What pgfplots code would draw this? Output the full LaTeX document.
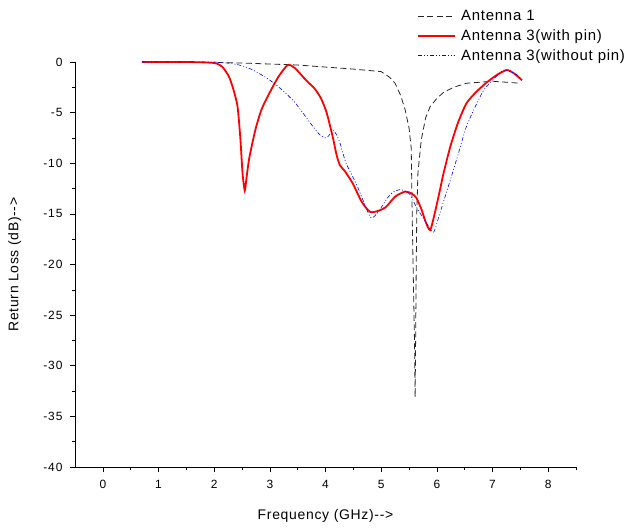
\documentclass[border=0pt]{standalone}
\usepackage{fontspec}
\setmainfont{Liberation Sans}
\newfontfamily\tickfont[LetterSpace=8]{Liberation Sans}
\newfontfamily\labfont[LetterSpace=5]{Liberation Sans}
\newfontfamily\legfont[LetterSpace=5]{Liberation Sans}
\usepackage{pgfplots}
\pgfplotsset{compat=1.18}
\begin{document}
\begin{tikzpicture}
\begin{axis}[name=ax,
  scale only axis, width=501bp, height=405bp,
  xmin=-0.5, xmax=8.5, ymin=-40, ymax=0,
  axis x line*=bottom, axis y line*=left,
  clip=false,
  xtick={0,1,...,8}, minor xtick={0.5,1.5,...,8.5},
  ytick={-40,-35,...,0}, minor ytick={-37.5,-32.5,...,-2.5},
  tick align=outside, major tick length=5bp, minor tick length=3bp,
  every tick/.style={black, line width=0.6pt},
  axis line style={line width=0.7pt},
  tick label style={font=\tickfont\fontsize{12}{14}\selectfont},
  xticklabel style={yshift=-5bp},
  yticklabel style={xshift=-4bp},
  /pgf/number format/assume math mode=true,
  label style={font=\labfont\fontsize{14}{16}\selectfont},
  xlabel={Frequency (GHz){-}{-}>},
  ylabel={Return Loss (dB){-}{-}>},
  xlabel style={at={(axis description cs:0.5,-0.121)}, anchor=center},
  ylabel style={at={(axis description cs:-0.12,0.5)}, anchor=center},
  legend style={at={(axis description cs:0.676,1.1376)}, anchor=north west, draw=none, fill=none,
    font=\legfont\fontsize{15}{17}\selectfont, row sep=3.5bp},
  legend cell align=left,
  legend image post style={xscale=2.15},
]
\addplot[color=black!85, line width=0.8pt, dash pattern=on 6pt off 3.5pt] coordinates {
(0.7,0) (2.0,-0.05) (2.5,-0.1) (3.0,-0.2) (3.5,-0.3) (4.0,-0.5) (4.5,-0.7) (5.0,-0.95)
(5.15,-1.5) (5.25,-2.1) (5.35,-3.3) (5.43,-4.7) (5.5,-6.5) (5.54,-8.5) (5.55,-12)
(5.56,-16) (5.58,-22) (5.6,-28) (5.61,-33.1) (5.62,-27) (5.63,-20) (5.64,-15) (5.66,-11)
(5.72,-7.7) (5.8,-5.5) (5.88,-4.4) (6.0,-3.6) (6.12,-3.0) (6.3,-2.5) (6.53,-2.1) (7.0,-1.9) (7.5,-2.1)
};
\addlegendentry{\hspace{4bp}Antenna 1}
\addplot[color=red, line width=1.8pt, smooth, tension=0.4] coordinates {
(0.7,0) (1.5,0) (2.0,-0.1) (2.15,-0.5) (2.27,-1.5) (2.35,-2.8) (2.42,-4.4) (2.47,-7.5)
(2.51,-11) (2.55,-12.7) (2.58,-11.5) (2.63,-9.5) (2.74,-6.7) (2.85,-4.7) (2.99,-3.1)
(3.15,-1.5) (3.32,-0.3) (3.45,-0.6) (3.65,-1.8) (3.8,-2.6) (3.92,-3.6) (4.02,-5) (4.13,-7.4)
(4.2,-9.2) (4.26,-10.2) (4.35,-10.8) (4.49,-12.0) (4.65,-13.8) (4.8,-14.8) (4.95,-14.7)
(5.09,-14.3) (5.25,-13.3) (5.43,-12.8) (5.55,-13) (5.63,-13.4) (5.72,-14.5) (5.8,-15.8)
(5.88,-16.6) (5.96,-15) (6.05,-12.8) (6.12,-11.0) (6.24,-8.4) (6.38,-6) (6.53,-4.1)
(6.7,-3.0) (6.9,-2.0) (7.1,-1.2) (7.26,-0.8) (7.38,-1.1) (7.53,-1.8)
};
\addlegendentry{\hspace{4bp}Antenna 3(with pin)}
\addplot[color=blue, line width=0.6pt, smooth, tension=0.4,
  dash pattern=on 4pt off 2pt on 1pt off 2pt on 1pt off 2pt] coordinates {
(0.7,0) (2.0,0) (2.45,-0.3) (2.7,-0.8) (2.92,-1.5) (3.1,-2.2) (3.29,-3.1) (3.45,-4.0)
(3.59,-5.0) (3.75,-6.2) (3.9,-7.2) (4.01,-7.5) (4.07,-7.2) (4.13,-6.7) (4.2,-7.2) (4.26,-8.0)
(4.37,-10.0) (4.55,-12.0) (4.7,-14) (4.82,-15.4) (4.95,-14.8) (5.09,-13.6) (5.2,-12.9)
(5.34,-12.6) (5.45,-12.8) (5.52,-13.1) (5.63,-14.3) (5.8,-15.8) (5.94,-16.8) (6.05,-15)
(6.24,-11.7) (6.4,-8.8) (6.53,-6.4) (6.7,-4.3) (6.84,-2.8) (7.0,-1.8) (7.2,-0.8) (7.3,-0.9)
(7.45,-1.3) (7.5,-1.6)
};
\addlegendentry{\hspace{4bp}Antenna 3(without pin)}
\end{axis}
\pgfresetboundingbox
\path[use as bounding box] ([shift={(-75bp,-62bp)}]ax.south west) rectangle ([shift={(556bp,467bp)}]ax.south west);
\end{tikzpicture}
\end{document}
